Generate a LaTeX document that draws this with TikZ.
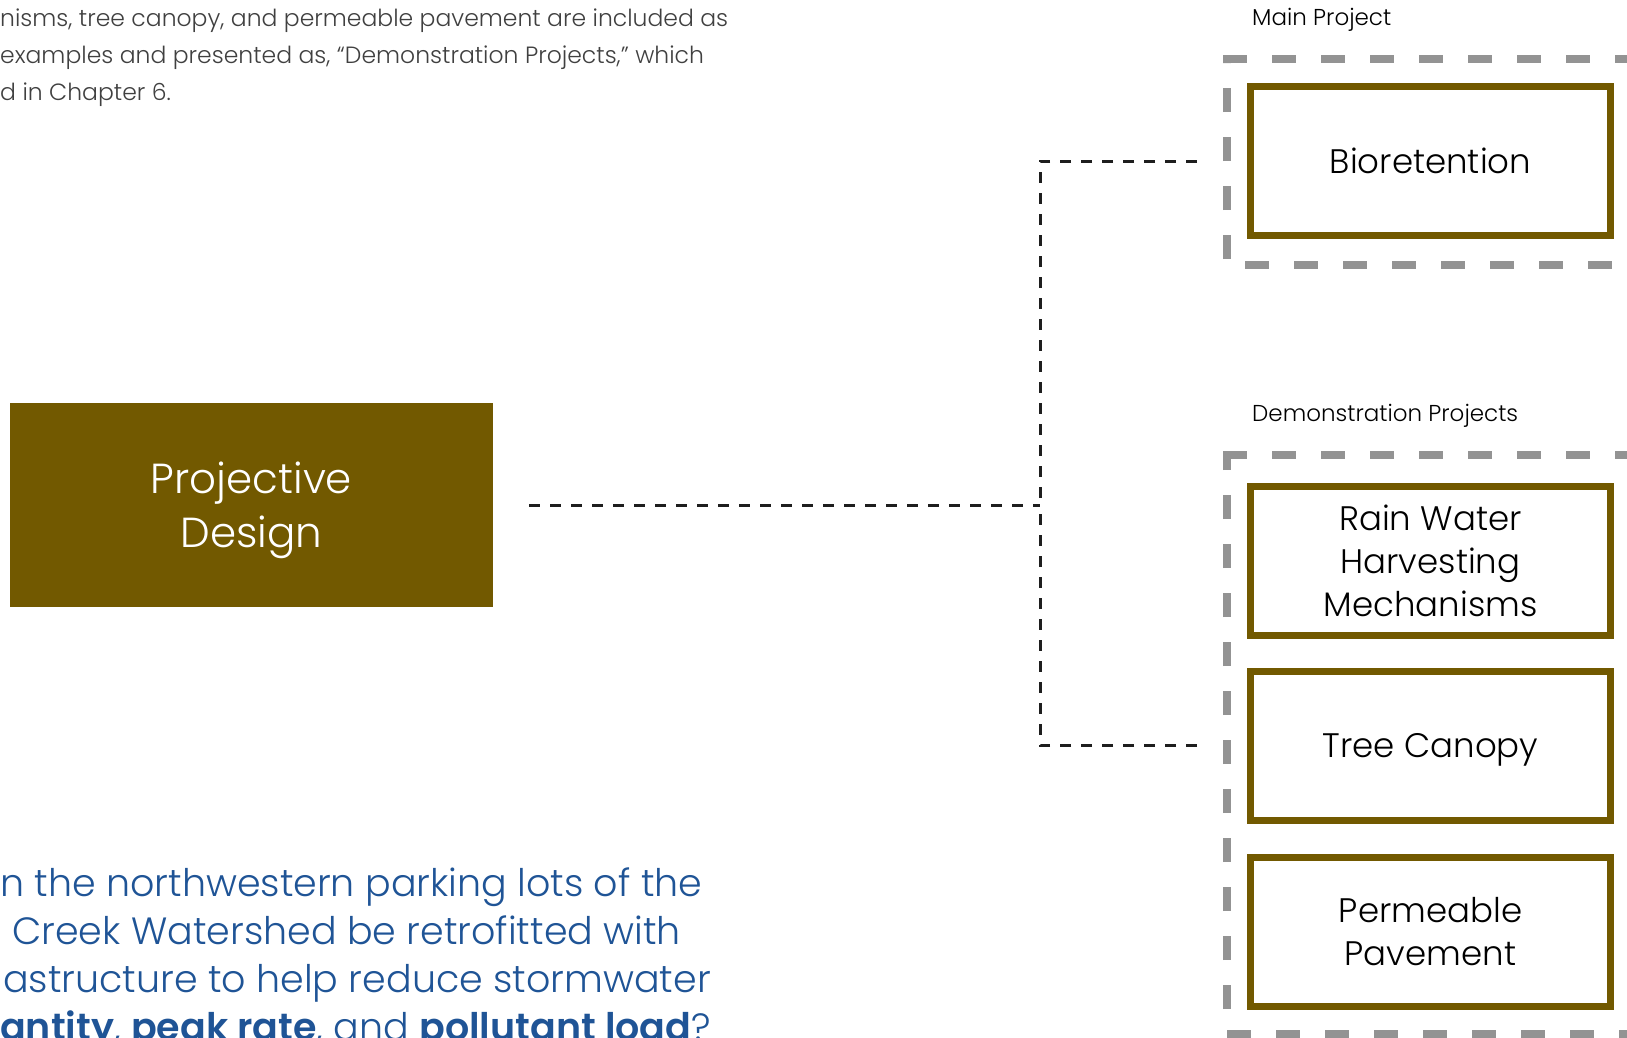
\documentclass[tikz,border=0pt]{standalone}
\usepackage{fontspec}
\setmainfont{Poppins Light}[BoldFont=Poppins SemiBold]
\usetikzlibrary{positioning}

\definecolor{earth}{RGB}{114,89,0}
\definecolor{framegray}{RGB}{147,147,147}
\definecolor{linkgray}{RGB}{30,30,30}
\definecolor{notegray}{RGB}{64,64,64}
\definecolor{askblue}{RGB}{31,84,150}

\tikzset{
  designbox/.style={fill=earth, text=white, inner sep=0pt, align=center, text depth=0pt,
    minimum width=483pt, minimum height=204pt, font=\fontsize{42}{54}\selectfont},
  bmpbox/.style={draw=earth, line width=7pt, fill=white, inner sep=0pt, align=center,
    text depth=0pt, minimum width=360pt, minimum height=149pt,
    font=\fontsize{34}{43}\selectfont},
  grouplabel/.style={anchor=base west, inner sep=0pt, font=\fontsize{23}{26}\selectfont},
  groupframe/.style={draw=framegray, line width=8pt, dash pattern=on 24pt off 25pt},
  link/.style={draw=linkgray, line width=3pt, dash pattern=on 11pt off 10pt},
}

\begin{document}
\begin{tikzpicture}[x=1pt, y=-1pt]
\useasboundingbox (0,0) rectangle (1627,1037);

% running text around the chart
\node[anchor=north west, inner sep=0pt, align=left, text=notegray,
  font=\fontsize{23.5}{37}\selectfont] (intro) at (0,9)
  {nisms, tree canopy, and permeable pavement are included as\\
   examples and presented as, “Demonstration Projects,” which\\
   d in Chapter 6.};
\node[anchor=north west, inner sep=0pt, align=left, text=askblue,
  font=\fontsize{38}{48}\selectfont] (question) at (0,868)
  {n the northwestern parking lots of the\\
   \hspace*{12pt}Creek Watershed be retrofitted with\\
   \hspace*{3pt}astructure to help reduce stormwater\\
   \textbf{antity}, \textbf{peak rate}, and \textbf{pollutant load}?};

% design box on the left
\node[designbox] (design) at (251.5,505) {Projective\\Design};

% project boxes on the right
\node[bmpbox] (bio) at (1430.5,161) {Bioretention};
\node[bmpbox] (rain) at (1430.5,560.5) {Rain Water\\Harvesting\\Mechanisms};
\node[bmpbox, below=29pt of rain] (tree) {Tree Canopy};
\node[bmpbox, below=30pt of tree] (perm) {Permeable\\Pavement};

\node[grouplabel] (mainlbl) at (1252,25) {Main Project};
\node[grouplabel] (demolbl) at (1252,421) {Demonstration Projects};

% dashed group frames (right sides run off the page)
\draw[groupframe] (1223,59) -- (1680,59);
\draw[groupframe] (1227,259) -- (1227,63);
\draw[groupframe] (1245,265) -- (1680,265);
\draw[groupframe] (1223,455) -- (1680,455);
\draw[groupframe] (1227,1009) -- (1227,451);
\draw[groupframe] (1227,1034) -- (1680,1034);

% connectors
\coordinate (hub) at (1040,505);
\coordinate (bioend) at ([xshift=-50pt]bio.west);
\coordinate (treeend) at ([xshift=-50pt]tree.west);
\draw[link] ([xshift=36pt]design.east) -- (hub);
\draw[link] (bioend) -| (hub);
\draw[link] (treeend) -| (hub);
\end{tikzpicture}
\end{document}
